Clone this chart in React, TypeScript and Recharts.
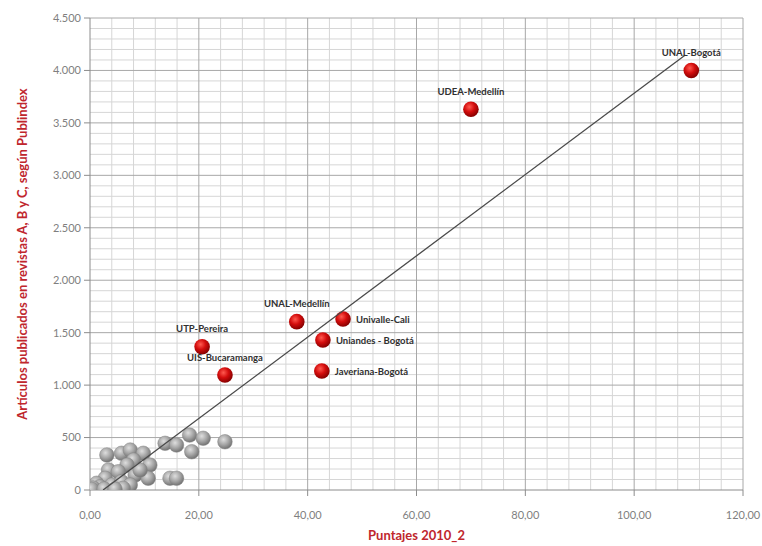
import React from 'react';
import { ScatterChart, Scatter, XAxis, YAxis, ReferenceLine, LabelList, Label } from 'recharts';

const xTicks = [0, 20, 40, 60, 80, 100, 120];
const yTicks = [0, 500, 1000, 1500, 2000, 2500, 3000, 3500, 4000, 4500];
const xMinor = [4, 8, 12, 16, 24, 28, 32, 36, 44, 48, 52, 56, 64, 68, 72, 76, 84, 88, 92, 96, 104, 108, 112, 116];
const yMinor = [100, 200, 300, 400, 600, 700, 800, 900, 1100, 1200, 1300, 1400, 1600, 1700, 1800, 1900, 2100, 2200, 2300, 2400, 2600, 2700, 2800, 2900, 3100, 3200, 3300, 3400, 3600, 3700, 3800, 3900, 4100, 4200, 4300, 4400];

const otherUniversities = [
  { x: 3.1, y: 334 }, { x: 5.8, y: 350 }, { x: 7.4, y: 381 }, { x: 9.8, y: 350 },
  { x: 8.0, y: 286 }, { x: 6.8, y: 238 }, { x: 11.0, y: 238 }, { x: 3.4, y: 191 },
  { x: 5.2, y: 174 }, { x: 8.3, y: 143 }, { x: 10.7, y: 112 }, { x: 2.8, y: 112 },
  { x: 1.2, y: 64 }, { x: 1.8, y: 31 }, { x: 4.0, y: 48 }, { x: 5.8, y: 79 },
  { x: 7.4, y: 48 }, { x: 6.1, y: 16 }, { x: 13.8, y: 445 }, { x: 15.9, y: 429 },
  { x: 18.3, y: 524 }, { x: 20.8, y: 493 }, { x: 24.8, y: 460 }, { x: 18.7, y: 365 },
  { x: 14.7, y: 112 }, { x: 15.9, y: 112 }, { x: 0.6, y: 19 }, { x: 9.2, y: 191 },
  { x: 0.3, y: 5 }, { x: 2.6, y: 10 }, { x: 4.6, y: 8 },
];

const labelAbove = [
  { x: 110.5, y: 4000, name: 'UNAL-Bogotá' },
  { x: 70.0, y: 3630, name: 'UDEA-Medellín' },
  { x: 38.0, y: 1605, name: 'UNAL-Medellín' },
  { x: 20.6, y: 1366, name: 'UTP-Pereira' },
  { x: 24.8, y: 1096, name: 'UIS-Bucaramanga' },
];

const labelRight = [
  { x: 46.5, y: 1630, name: 'Univalle-Cali' },
  { x: 42.8, y: 1430, name: 'Uniandes - Bogotá' },
  { x: 42.6, y: 1134, name: 'Javeriana-Bogotá' },
];

const trend = [
  { x: 2.4, y: 0 },
  { x: 109.4, y: 4147 },
];

const FONT = 'Lato, "Open Sans", sans-serif';
const RED_TITLE = '#c0262d';

const fmtY = (v: number) => String(v).replace(/\B(?=(\d{3})+(?!\d))/g, '.');
const fmtX = (v: number) => v.toFixed(2).replace('.', ',');

const GrayBall = (p: any) => (
  <circle cx={p.cx} cy={p.cy} r={7.3} fill="url(#grayBall)" stroke="#858585" strokeWidth={0.5} />
);
const RedBall = (p: any) => (
  <circle cx={p.cx} cy={p.cy} r={7.8} fill="url(#redBall)" />
);
const NoShape = () => <g />;

const AboveLabel = (p: any) => (
  <text x={p.x + p.width / 2} y={p.y - 10} textAnchor="middle" fontFamily={FONT} fontWeight={700} fontSize={9.5} fill="#303030">
    {p.value}
  </text>
);
const RightLabel = (p: any) => (
  <text x={p.x + p.width / 2 + 13} y={p.y + p.height / 2 + 4} textAnchor="start" fontFamily={FONT} fontWeight={700} fontSize={9.5} fill="#303030">
    {p.value}
  </text>
);

export default function App() {
  return (
    <div style={{ width: 762, height: 546 }}>
      <style>{'html,body{margin:0;padding:0;overflow:hidden}'}</style>
      <ScatterChart width={762} height={546} margin={{ top: 18, right: 19, left: 30, bottom: 26 }}>
        <defs>
          <radialGradient id="grayBall" cx="40%" cy="35%" r="65%">
            <stop offset="0%" stopColor="#dedede" />
            <stop offset="55%" stopColor="#a6a6a6" />
            <stop offset="100%" stopColor="#737373" />
          </radialGradient>
          <radialGradient id="redBall" cx="40%" cy="35%" r="65%">
            <stop offset="0%" stopColor="#ff5a50" />
            <stop offset="50%" stopColor="#d40d0d" />
            <stop offset="100%" stopColor="#860000" />
          </radialGradient>
        </defs>
        <XAxis
          type="number"
          dataKey="x"
          domain={[0, 120]}
          ticks={xTicks}
          tickFormatter={fmtX}
          tick={{ fill: '#7f7f7f', fontSize: 11, fontFamily: FONT }}
          axisLine={{ stroke: '#8c8c8c' }}
          tickLine={{ stroke: '#8c8c8c' }}
          tickSize={6}
          tickMargin={15}
          height={30}
          allowDataOverflow
        >
          <Label value="Puntajes 2010_2" position="bottom" offset={11} fill={RED_TITLE} fontFamily={FONT} fontWeight={700} fontSize={13} />
        </XAxis>
        <YAxis
          type="number"
          dataKey="y"
          domain={[0, 4500]}
          ticks={yTicks}
          tickFormatter={fmtY}
          tick={{ fill: '#7f7f7f', fontSize: 11, fontFamily: FONT }}
          axisLine={{ stroke: '#8c8c8c' }}
          tickLine={{ stroke: '#8c8c8c' }}
          tickSize={6}
          tickMargin={3}
          width={60}
          allowDataOverflow
        >
          <Label
            value="Artículos publicados en revistas A, B y C, según Publindex"
            angle={-90}
            position="insideLeft"
            offset={-8}
            style={{ textAnchor: 'middle' }}
            fill={RED_TITLE}
            fontFamily={FONT}
            fontWeight={700}
            fontSize={13}
          />
        </YAxis>
        {xMinor.map((v) => (
          <ReferenceLine key={'xm' + v} x={v} stroke="#d6d6d6" strokeWidth={1} />
        ))}
        {yMinor.map((v) => (
          <ReferenceLine key={'ym' + v} y={v} stroke="#d6d6d6" strokeWidth={1} />
        ))}
        {xTicks.slice(1).map((v) => (
          <ReferenceLine key={'xM' + v} x={v} stroke="#a8a8a8" strokeWidth={1} />
        ))}
        {yTicks.slice(1).map((v) => (
          <ReferenceLine key={'yM' + v} y={v} stroke="#a8a8a8" strokeWidth={1} />
        ))}
        <Scatter data={otherUniversities} shape={GrayBall} isAnimationActive={false} />
        <Scatter data={labelAbove} shape={RedBall} isAnimationActive={false}>
          <LabelList dataKey="name" content={AboveLabel} />
        </Scatter>
        <Scatter data={labelRight} shape={RedBall} isAnimationActive={false}>
          <LabelList dataKey="name" content={RightLabel} />
        </Scatter>
        <Scatter data={trend} shape={NoShape} line={{ stroke: '#4a4a4a', strokeWidth: 1.3 }} isAnimationActive={false} />
      </ScatterChart>
    </div>
  );
}
